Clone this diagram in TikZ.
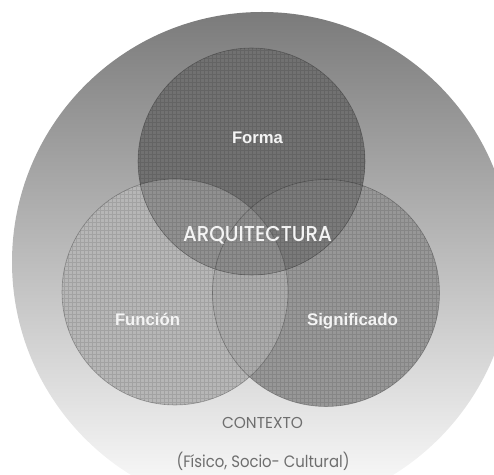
\documentclass[tikz,border=0pt]{standalone}
\usepackage{fontspec}
\usepackage{graphicx}
\setmainfont{Liberation Sans}
\newfontfamily\gothic{Poppins}
\newfontfamily\gothicmed{Poppins Medium}
\definecolor{outerTop}{HTML}{7B7B7B}
\definecolor{outerMid}{HTML}{B0B0B0}
\definecolor{formaC}{HTML}{717171}
\definecolor{funcC}{HTML}{B6B6B6}
\definecolor{signC}{HTML}{979797}
\definecolor{fuC}{HTML}{909090}
\definecolor{fsC}{HTML}{7A7A7A}
\definecolor{usC}{HTML}{ABABAB}
\definecolor{fusC}{HTML}{8C8C8C}
\definecolor{ctxC}{HTML}{6E6E6E}
\definecolor{lblC}{HTML}{F4F4F4}
\begin{document}
\begin{tikzpicture}[x=1pt,y=1pt,
  lbl/.style={text=lblC, inner sep=0pt, anchor=base},
  ctx/.style={text=ctxC, inner sep=0pt, anchor=base},
  gridline/.style={black, opacity=0.11, line width=0.6pt},
  rim/.style={black, opacity=0.28, line width=0.6pt}]
\useasboundingbox (0,0) rectangle (494,474);
\coordinate (cF) at (251.5,312.5);
\coordinate (cU) at (175,182);
\coordinate (cS) at (326,181);
\def\rF{113.5}
\def\rU{113}
\def\rS{113.5}
% outer context circle
\begin{scope}
  \clip (0,0) rectangle (494,474);
  \shade[top color=outerTop, middle color=outerMid, bottom color=white] (262,212) circle (250);
\end{scope}
% base fills
\fill[funcC] (cU) circle (\rU);
\fill[signC] (cS) circle (\rS);
\fill[formaC] (cF) circle (\rF);
% overlaps
\begin{scope}
  \clip (cU) circle (\rU);
  \fill[usC] (cS) circle (\rS);
\end{scope}
\begin{scope}
  \clip (cF) circle (\rF);
  \fill[fsC] (cS) circle (\rS);
\end{scope}
\begin{scope}
  \clip (cF) circle (\rF);
  \fill[fuC] (cU) circle (\rU);
\end{scope}
\begin{scope}
  \clip (cF) circle (\rF);
  \clip (cU) circle (\rU);
  \fill[fusC] (cS) circle (\rS);
\end{scope}
% grid texture
\begin{scope}
  \clip (cF) circle (\rF) (cU) circle (\rU) (cS) circle (\rS);
  \draw[gridline] (56,64) grid[step=4] (444,430);
\end{scope}
% rims
\draw[rim] (cU) circle (\rU);
\draw[rim] (cS) circle (\rS);
\draw[rim] (cF) circle (\rF);
% labels
\node[lbl] (forma) at (257.5,330) {\resizebox{51pt}{\height}{\fontsize{16.8}{20}\selectfont\bfseries Forma}};
\node[lbl] (funcion) at (147.5,149) {\resizebox{65pt}{\height}{\fontsize{16.8}{20}\selectfont\bfseries Función}};
\node[lbl] (signif) at (352.5,149) {\resizebox{91pt}{\height}{\fontsize{16.8}{20}\selectfont\bfseries Significado}};
\node[lbl] (arq) at (257.5,232.3) {\resizebox{149pt}{\height}{\fontsize{21.5}{24}\selectfont\gothicmed ARQUITECTURA}};
\node[ctx] (contexto) at (262.5,46) {\resizebox{81pt}{\height}{\fontsize{15.8}{18}\selectfont\gothic CONTEXTO}};
\node[ctx] (tipos) at (263,7) {\resizebox{173pt}{\height}{\fontsize{16.5}{20}\selectfont\gothic (Físico, Socio- Cultural)}};
\end{tikzpicture}
\end{document}
